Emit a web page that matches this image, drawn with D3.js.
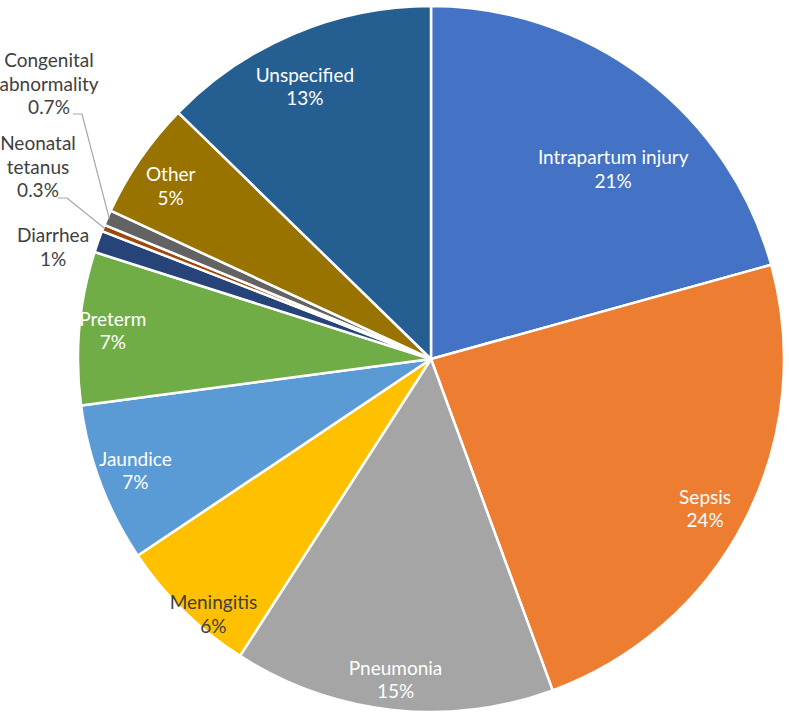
<!DOCTYPE html>
<html><head><meta charset="utf-8">
<script src="https://cdn.jsdelivr.net/npm/d3@7/dist/d3.min.js"></script>
<style>body{margin:0;background:#fff} svg{display:block}</style>
</head><body><svg id="chart" width="789" height="714"></svg>
<script>
const categories = ["Intrapartum injury","Sepsis","Pneumonia","Meningitis","Jaundice","Preterm","Diarrhea","Neonatal tetanus","Congenital abnormality","Other","Unspecified"];
const values = [20.7,23.7,14.7,6.5,7.3,7.0,1.0,0.3,0.7,5.4,12.7];
const valueLabels = ["21%","24%","15%","6%","7%","7%","1%","0.3%","0.7%","5%","13%"];
const colors = ["#4472C4","#ED7D31","#A5A5A5","#FFC000","#5B9BD5","#70AD47","#264478","#9E480E","#636363","#997300","#255E91"];

// layout (not data)
const W = 789, H = 714, cx = 431, cy = 359, R = 353;
const FONT = "Lato, 'Open Sans', sans-serif", FS = 19, LH = 23.5;
const insideRadius = [0.745,0.885,0.915,0.95,0.895,0.905,null,null,null,0.885,0.85];
const insideAngleShift = [6.6,1.5,0,-4,0,0,0,0,0,-1,-2]; // degrees
const insideTextColor = ["#fff","#fff","#fff","#404040","#fff","#fff",null,null,null,"#fff","#fff"];
const outsideAnchor = {6:[53,242],7:[38,150],8:[49,67]}; // first-line baseline centre
const outsideElbow = {7:[[58,198],[67,198]],8:[[73,114],[82,114]]};

const svg = d3.select("#chart");
const g = svg.append("g").attr("transform", `translate(${cx},${cy})`);

const pie = d3.pie().sort(null).value(d => d.v);
const data = categories.map((c,i) => ({c, v: values[i], lab: valueLabels[i], col: colors[i], i}));
const arcs = pie(data);
const arc = d3.arc().innerRadius(0).outerRadius(R);

g.selectAll("path.slice").data(arcs).join("path")
  .attr("class","slice")
  .attr("d", arc)
  .attr("fill", d => d.data.col)
  .attr("stroke", "#fff")
  .attr("stroke-width", 2.5)
  .attr("stroke-linejoin","round");

// inside labels
arcs.forEach(a => {
  const i = a.data.i;
  if (insideRadius[i] == null) return;
  const mid = (a.startAngle + a.endAngle)/2 + insideAngleShift[i]*Math.PI/180;
  const rr = insideRadius[i]*R;
  const x = rr*Math.sin(mid), y = -rr*Math.cos(mid);
  const t = g.append("text")
    .attr("text-anchor","middle")
    .attr("font-family", FONT).attr("font-size", FS)
    .attr("fill", insideTextColor[i]);
  t.append("tspan").attr("x", x).attr("y", y - LH/2 + FS*0.35).text(a.data.c);
  t.append("tspan").attr("x", x).attr("y", y + LH/2 + FS*0.35).text(a.data.lab);
});

// outside labels with leader lines
arcs.forEach(a => {
  const i = a.data.i;
  if (!outsideAnchor[i]) return;
  const [ax, ay] = outsideAnchor[i];
  const lines = a.data.c.split(" ").concat([a.data.lab]);
  const t = svg.append("text")
    .attr("text-anchor","middle")
    .attr("font-family", FONT).attr("font-size", FS)
    .attr("fill", "#404040");
  lines.forEach((ln, k) => t.append("tspan").attr("x", ax).attr("y", ay + k*LH).text(ln));
  if (outsideElbow[i]) {
    const mid = (a.startAngle + a.endAngle)/2;
    const px = cx + (R-2)*Math.sin(mid), py = cy - (R-2)*Math.cos(mid);
    const pts = outsideElbow[i].concat([[px, py]]);
    svg.append("path")
      .attr("d", d3.line()(pts))
      .attr("fill","none").attr("stroke","#A6A6A6").attr("stroke-width",1.2);
  }
});
</script></body></html>
